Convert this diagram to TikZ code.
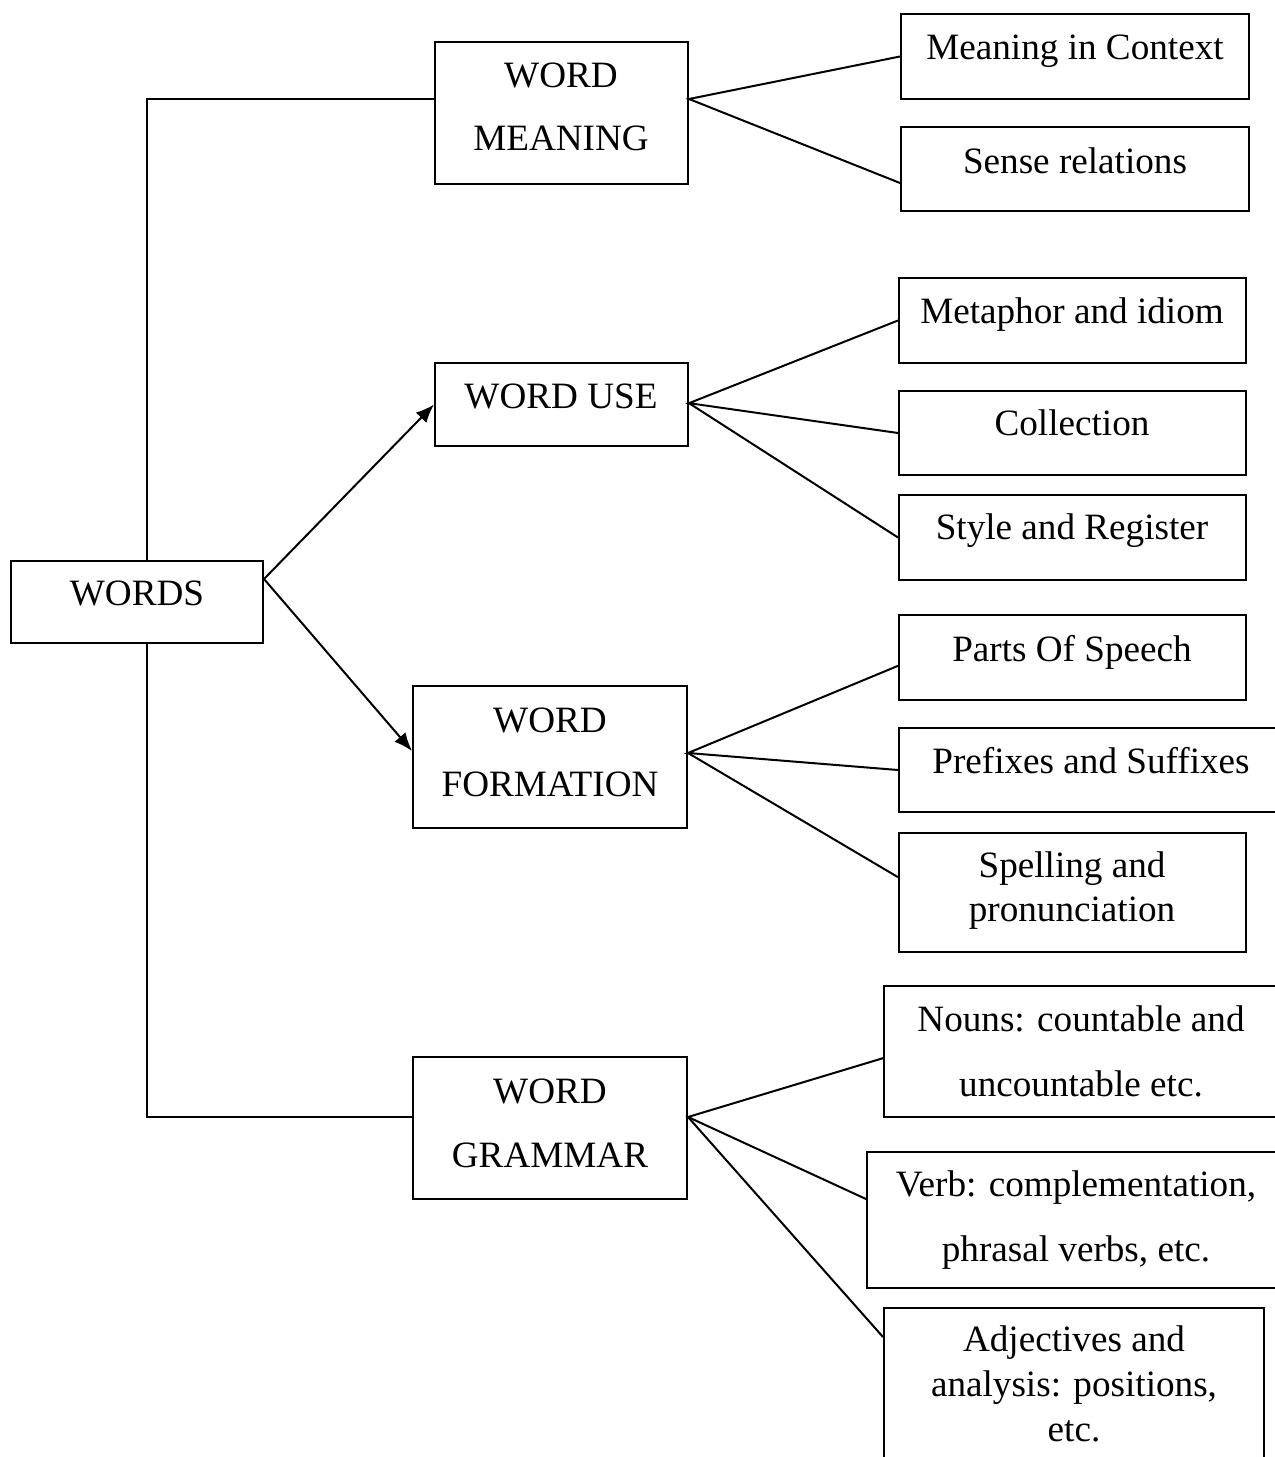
\documentclass[tikz,border=0pt]{standalone}
\usepackage{fontspec}
\setmainfont{Liberation Serif}
\usetikzlibrary{arrows.meta,fit}
\tikzset{
  >={Latex[length=5.5pt,width=4.4pt]},
  box/.style={draw,line width=0.6pt,inner sep=0pt},
  link/.style={line width=0.6pt},
  txt/.style={anchor=base,align=center,inner sep=0pt,
    font=\fontsize{11.15}{19.2}\selectfont},
  tight/.style={font=\fontsize{11.15}{13.2}\selectfont},
}

\begin{document}
\begin{tikzpicture}[x=0.3pt,y=-0.3pt]
  \useasboundingbox (0,0) rectangle (1275,1457);
  % main boxes
  \node[box,fit={(11,561) (263,643)}] (words) {};
  \node[box,fit={(435,42) (688,184)}] (mean) {};
  \node[box,fit={(435,363) (688,446)}] (use) {};
  \node[box,fit={(413,686) (687,828)}] (form) {};
  \node[box,fit={(413,1057) (687,1199)}] (gram) {};
  % right boxes
  \node[box,fit={(901,14) (1249,99)}] (ctx) {};
  \node[box,fit={(901,127) (1249,211)}] (sense) {};
  \node[box,fit={(899,278) (1246,363)}] (meta) {};
  \node[box,fit={(899,391) (1246,475)}] (coll) {};
  \node[box,fit={(899,495) (1246,580)}] (style) {};
  \node[box,fit={(899,615) (1246,700)}] (parts) {};
  \node[box,fit={(899,728) (1283,812)}] (prefix) {};
  \node[box,fit={(899,833) (1246,952)}] (spell) {};
  \node[box,fit={(884,986) (1278,1117)}] (nouns) {};
  \node[box,fit={(867,1152) (1285,1288)}] (verb) {};
  \node[box,fit={(884,1308) (1264,1490)}] (adj) {};

  % texts (base = last line)
  \node[txt] (words-t) at (137,605) {WORDS};
  \node[txt] (mean-t) at (561,151) {WORD\\MEANING};
  \node[txt] (use-t) at (561,408) {WORD USE};
  \node[txt] (form-t) at (550,796) {WORD\\FORMATION};
  \node[txt] (gram-t) at (550,1167) {WORD\\GRAMMAR};
  \node[txt] (ctx-t) at (1075,60) {Meaning in Context};
  \node[txt] (sense-t) at (1075,174) {Sense relations};
  \node[txt] (meta-t) at (1072,323) {Metaphor and idiom};
  \node[txt] (coll-t) at (1072,435) {Collection};
  \node[txt] (style-t) at (1072,539) {Style and Register};
  \node[txt] (parts-t) at (1072,661) {Parts Of Speech};
  \node[txt] (prefix-t) at (1091,773) {Prefixes and Suffixes};
  \node[txt,tight] (spell-t) at (1072,921) {Spelling and\\pronunciation};
  \node[txt,font=\fontsize{11.15}{19.5}\selectfont] (nouns-t) at (1081,1096) {Nouns: countable and\\uncountable etc.};
  \node[txt,font=\fontsize{11.15}{19.5}\selectfont] (verb-t) at (1076,1261) {Verb: complementation,\\phrasal verbs, etc.};
  \node[txt,font=\fontsize{11.15}{13.5}\selectfont] (adj-t) at (1074,1441) {Adjectives and\\analysis: positions,\\etc.};

  % trunk
  \draw[link] ([xshift=3pt]words.north) |- ([yshift=4.2pt]mean.west);
  \draw[link] ([xshift=3pt]words.south) |- ([yshift=3.3pt]gram.west);
  \coordinate (words-out) at ([yshift=6.9pt]words.east);
  \draw[link,->] (words-out) -- (use.west);
  \draw[link,->] (words-out) -- ([yshift=1.8pt]form.west);

  % fans
  \coordinate (mean-out) at ([yshift=4.2pt]mean.east);
  \draw[link] (ctx.west) -- (mean-out) -- ([yshift=-4.2pt]sense.west);
  \coordinate (use-out) at ([yshift=0.4pt]use.east);
  \draw[link] (meta.west) -- (use-out) -- (coll.west);
  \draw[link] (use-out) -- (style.west);
  \coordinate (form-out) at ([yshift=1.2pt]form.east);
  \draw[link] ([yshift=-2.5pt]parts.west) -- (form-out) -- (prefix.west);
  \draw[link] (form-out) -- ([yshift=4.6pt]spell.west);
  \coordinate (gram-out) at ([yshift=3.3pt]gram.east);
  \draw[link] ([yshift=-2pt]nouns.west) -- (gram-out) -- ([yshift=6.3pt]verb.west);
  \draw[link] (gram-out) -- ([yshift=-9pt]adj.north west);
\end{tikzpicture}
\end{document}
